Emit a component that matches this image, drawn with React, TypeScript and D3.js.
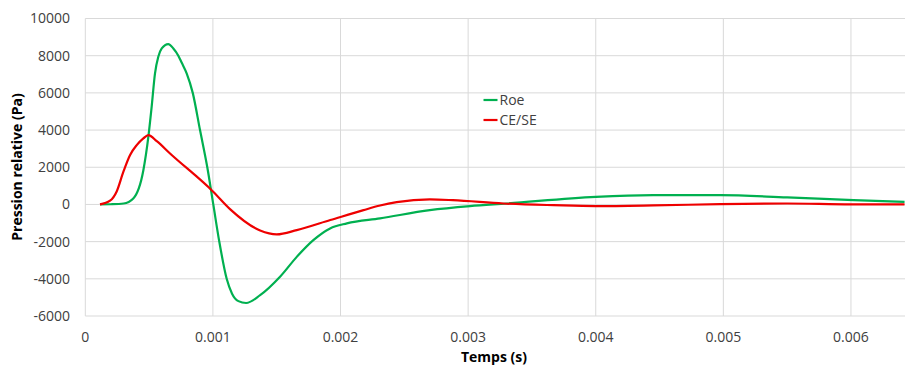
import React from "react";
import * as d3 from "d3";

const roeTime = [0.000115, 0.0002, 0.0003, 0.000376, 0.000455, 0.000494, 0.00052, 0.000546, 0.000572, 0.000599, 0.00065, 0.00069, 0.000729, 0.000755, 0.000795, 0.000842, 0.000899, 0.000956, 0.001003, 0.00105, 0.001108, 0.00115, 0.0012, 0.00126, 0.00137, 0.001526, 0.001657, 0.001787, 0.001918, 0.00205, 0.00231, 0.0027, 0.003015, 0.0033, 0.004, 0.00445, 0.004975, 0.0055, 0.00602, 0.00642];
const roeValues = [0, 10, 50, 320, 1840, 3630, 5250, 7040, 7940, 8390, 8620, 8390, 8000, 7630, 7040, 6000, 4000, 2000, 0, -2000, -4000, -4800, -5200, -5300, -4880, -3890, -2820, -1920, -1290, -1020, -750, -306, -90, 50, 410, 500, 500, 375, 230, 140];

const ceseTime = [0.000115, 0.000194, 0.000246, 0.000298, 0.00035, 0.000403, 0.000455, 0.000494, 0.00056, 0.000664, 0.001, 0.001134, 0.00137, 0.0015, 0.001657, 0.00192, 0.00218, 0.00231, 0.00244, 0.0027, 0.00288, 0.003276, 0.00367, 0.004, 0.00445, 0.004975, 0.0055, 0.006, 0.00642];
const ceseValues = [0, 200, 700, 1750, 2650, 3190, 3550, 3730, 3400, 2740, 700, -250, -1400, -1610, -1380, -840, -306, -60, 120, 270, 230, 50, -40, -90, -55, 15, 50, 0, 0];

const xTicks = [0, 0.001, 0.002, 0.003, 0.004, 0.005, 0.006];
const xTickLabels = ["0", "0.001", "0.002", "0.003", "0.004", "0.005", "0.006"];
const yTicks = [-6000, -4000, -2000, 0, 2000, 4000, 6000, 8000, 10000];

const seriesNames = ["Roe", "CE/SE"];
const seriesColors = ["#00B050", "#EE0000"];

const W = 905;
const H = 368;
const FONT = "'Open Sans', sans-serif";

export default function App() {
  const x = d3.scaleLinear().domain([0, 0.0064]).range([85.3, 902]);
  const y = d3.scaleLinear().domain([-6000, 10000]).range([316, 18.5]);

  const line = d3
    .line<[number, number]>()
    .x((d) => x(d[0]))
    .y((d) => y(d[1]))
    .curve(d3.curveMonotoneX);

  const series = [
    roeTime.map((t, i) => [t, roeValues[i]] as [number, number]),
    ceseTime.map((t, i) => [t, ceseValues[i]] as [number, number]),
  ];

  return (
    <svg
      width={W}
      height={H}
      style={{ position: "absolute", left: 0, top: 0, background: "#fff" }}
      fontFamily={FONT}
    >
      <rect x={0} y={0} width={W} height={H} fill="#fff" />
      {yTicks.map((v) => (
        <line key={"gy" + v} x1={85.3} x2={W} y1={y(v)} y2={y(v)} stroke="#D9D9D9" strokeWidth={1} />
      ))}
      {xTicks.map((v) => (
        <line key={"gx" + v} x1={x(v)} x2={x(v)} y1={y(10000)} y2={y(-6000)} stroke="#D9D9D9" strokeWidth={1} />
      ))}
      {yTicks.map((v) => (
        <text key={"ty" + v} x={70} y={y(v)} dy="0.35em" textAnchor="end" fontSize={14} fill="#404040">
          {v}
        </text>
      ))}
      {xTicks.map((v, i) => (
        <text key={"tx" + v} x={x(v)} y={342} textAnchor="middle" fontSize={14} fill="#404040">
          {xTickLabels[i]}
        </text>
      ))}
      {series.map((s, i) => (
        <path key={"s" + i} d={line(s) || ""} fill="none" stroke={seriesColors[i]} strokeWidth={2.2} strokeLinejoin="round" />
      ))}
      {seriesNames.map((n, i) => (
        <g key={"lg" + n}>
          <line x1={483.5} x2={497.5} y1={100 + i * 20} y2={100 + i * 20} stroke={seriesColors[i]} strokeWidth={2.2} />
          <text x={499.5} y={100 + i * 20} dy="0.35em" fontSize={14} fill="#404040">
            {n}
          </text>
        </g>
      ))}
      <text x={494} y={362} textAnchor="middle" fontSize={14} fontWeight="bold" fill="#000">
        Temps (s)
      </text>
      <text
        transform={`translate(22, ${167}) rotate(-90)`}
        textAnchor="middle"
        fontSize={14}
        fontWeight="bold"
        fill="#000"
      >
        Pression relative (Pa)
      </text>
    </svg>
  );
}
